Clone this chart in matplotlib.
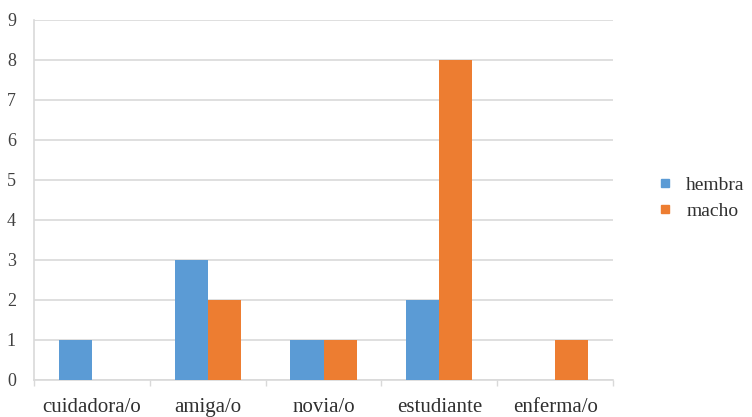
import matplotlib
matplotlib.use("Agg")
import matplotlib.pyplot as plt
import numpy as np
from matplotlib.lines import Line2D

categories = ["cuidadora/o", "amiga/o", "novia/o", "estudiante", "enferma/o"]
hembra = [1, 3, 1, 2, 0]
macho = [0, 2, 1, 8, 1]
y_ticks = list(range(0, 10))

blue = "#5B9BD5"
orange = "#ED7D31"
grid_c = "#D9D9D9"

plt.rcParams["font.family"] = ["Liberation Serif", "DejaVu Serif"]

fig = plt.figure(figsize=(7.52, 4.17), dpi=100)
ax = fig.add_axes([34 / 752, 37 / 417, (613 - 34) / 752, (380 - 20) / 417])

x = np.arange(len(categories))
w = 0.285
ax.bar(x - w / 2, hembra, w, color=blue, label="hembra", zorder=3)
ax.bar(x + w / 2, macho, w, color=orange, label="macho", zorder=3)

ax.set_xlim(-0.5, len(categories) - 0.5)
ax.set_ylim(0, 9)
ax.set_yticks(y_ticks)
ax.set_yticklabels([str(v) for v in y_ticks], fontsize=13, color="#404040")
ax.yaxis.grid(True, color=grid_c, linewidth=1.2, zorder=0)
ax.tick_params(axis="y", length=0, pad=13)

ax.set_xticks(x)
ax.set_xticklabels(categories, fontsize=15, color="#303030")
ax.tick_params(axis="x", length=0, pad=13)
ax.set_xticks(np.arange(-0.5, len(categories)), minor=True)
ax.tick_params(axis="x", which="minor", length=4, color=grid_c, width=1)

for s in ["top", "right"]:
    ax.spines[s].set_visible(False)
ax.spines["left"].set_color(grid_c)
ax.spines["bottom"].set_color(grid_c)
ax.spines["left"].set_linewidth(1.2)
ax.spines["bottom"].set_linewidth(1.2)

handles = [
    Line2D([], [], marker="s", linestyle="none", markersize=6, color=blue),
    Line2D([], [], marker="s", linestyle="none", markersize=6, color=orange),
]
fig.legend(handles, ["hembra", "macho"], loc="center left",
           bbox_to_anchor=(657 / 752, 1 - 198 / 417), frameon=False,
           borderaxespad=0, borderpad=0, handlelength=0.8,
           fontsize=14, handletextpad=0.7, labelspacing=0.45,
           labelcolor="#303030")

fig.savefig("out.png", dpi=100)
